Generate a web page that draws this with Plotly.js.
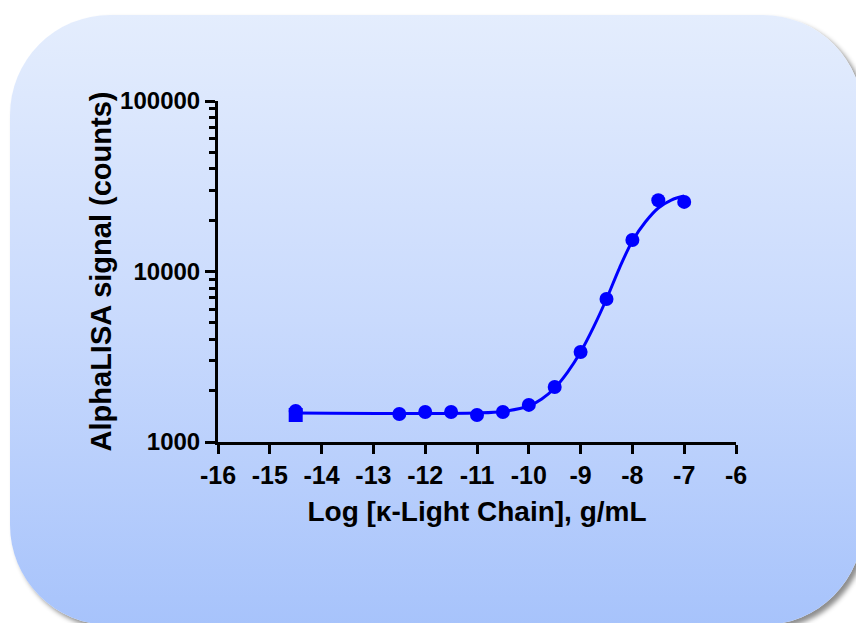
<!DOCTYPE html>
<html>
<head>
<meta charset="utf-8">
<script src="https://cdn.plot.ly/plotly-3.0.1.min.js"></script>
<style>
  html, body { margin:0; padding:0; width:856px; height:623px; overflow:hidden; background:#ffffff; }
  #bg { position:absolute; left:10px; top:15px; width:853px; height:610px; border-radius:100px;
        background:linear-gradient(to bottom, #E4EDFD 0%, #C9DAFD 50%, #A7C3FB 100%);
        box-shadow: 4px 4px 5px rgba(0,0,0,0.45); }
  #chart { position:absolute; left:0; top:0; width:856px; height:623px; }
</style>
</head>
<body>
<div id="bg"></div>
<div id="chart"></div>
<script>
// Data points (log concentration, g/mL) and AlphaLISA counts
const logConc = [-14.5, -12.5, -12, -11.5, -11, -10.5, -10, -9.5, -9, -8.5, -8, -7.5, -7];
const signal  = [1520, 1460, 1500, 1500, 1440, 1500, 1650, 2100, 3370, 6900, 15300, 26200, 25600];
// Blank point shown as square
const blankX = [-14.5];
const blankY = [1440];
// Fitted curve
const curveX = [-14.5, -11, -10.5, -10, -9.75, -9.5, -9.25, -9, -8.75, -8.5, -8.25, -8, -7.75, -7.5, -7.25, -7];
const curveY = [1480, 1480, 1510, 1626, 1787, 2074, 2573, 3374, 4723, 6900, 10480, 15100, 19500, 23570, 26240, 27700];
const xTicks = [-16, -15, -14, -13, -12, -11, -10, -9, -8, -7, -6];
const yTicks = [1000, 10000, 100000];
const yMinor = [2000,3000,4000,5000,6000,7000,8000,9000,20000,30000,40000,50000,60000,70000,80000,90000];

const blue = '#0000FF';
const fontFam = 'Liberation Sans, Arial, sans-serif';

const traces = [
  { x: curveX, y: curveY, mode: 'lines', line: {color: blue, width: 3, shape: 'spline'}, hoverinfo: 'skip', showlegend: false },
  { x: blankX, y: blankY, mode: 'markers', marker: {color: blue, size: 14, symbol: 'square'}, showlegend: false },
  { x: logConc, y: signal, mode: 'markers', marker: {color: blue, size: 14, symbol: 'circle'}, showlegend: false }
];

const layout = {
  width: 856, height: 623,
  paper_bgcolor: 'rgba(0,0,0,0)', plot_bgcolor: 'rgba(0,0,0,0)',
  margin: {l: 218, r: 120, t: 101, b: 181},
  showlegend: false,
  xaxis: {
    range: [-16, -6], tickvals: xTicks, ticktext: xTicks.map(String),
    showgrid: false, zeroline: false, showline: true, linecolor: '#000', linewidth: 3,
    ticks: 'outside', ticklen: 9, tickwidth: 3, tickcolor: '#000',
    tickfont: {family: fontFam, size: 25, color: '#000', weight: 700},
    title: {text: 'Log [κ-Light Chain], g/mL', font: {family: fontFam, size: 28, color: '#000', weight: 700}, standoff: 14}
  },
  yaxis: {
    type: 'log', range: [3, 5], tickvals: yTicks, ticktext: yTicks.map(String),
    showgrid: false, zeroline: false, showline: true, linecolor: '#000', linewidth: 3,
    ticks: 'outside', ticklen: 10, tickwidth: 3, tickcolor: '#000',
    tickfont: {family: fontFam, size: 24, color: '#000', weight: 700},
    minor: {tickvals: yMinor, ticks: 'outside', ticklen: 6, tickwidth: 3, tickcolor: '#000', showgrid: false},
    title: {text: 'AlphaLISA signal (counts)', font: {family: fontFam, size: 29, color: '#000', weight: 700}, standoff: 0}
  }
};

Plotly.newPlot('chart', traces, layout, {displayModeBar: false, staticPlot: true});
</script>
</body>
</html>
